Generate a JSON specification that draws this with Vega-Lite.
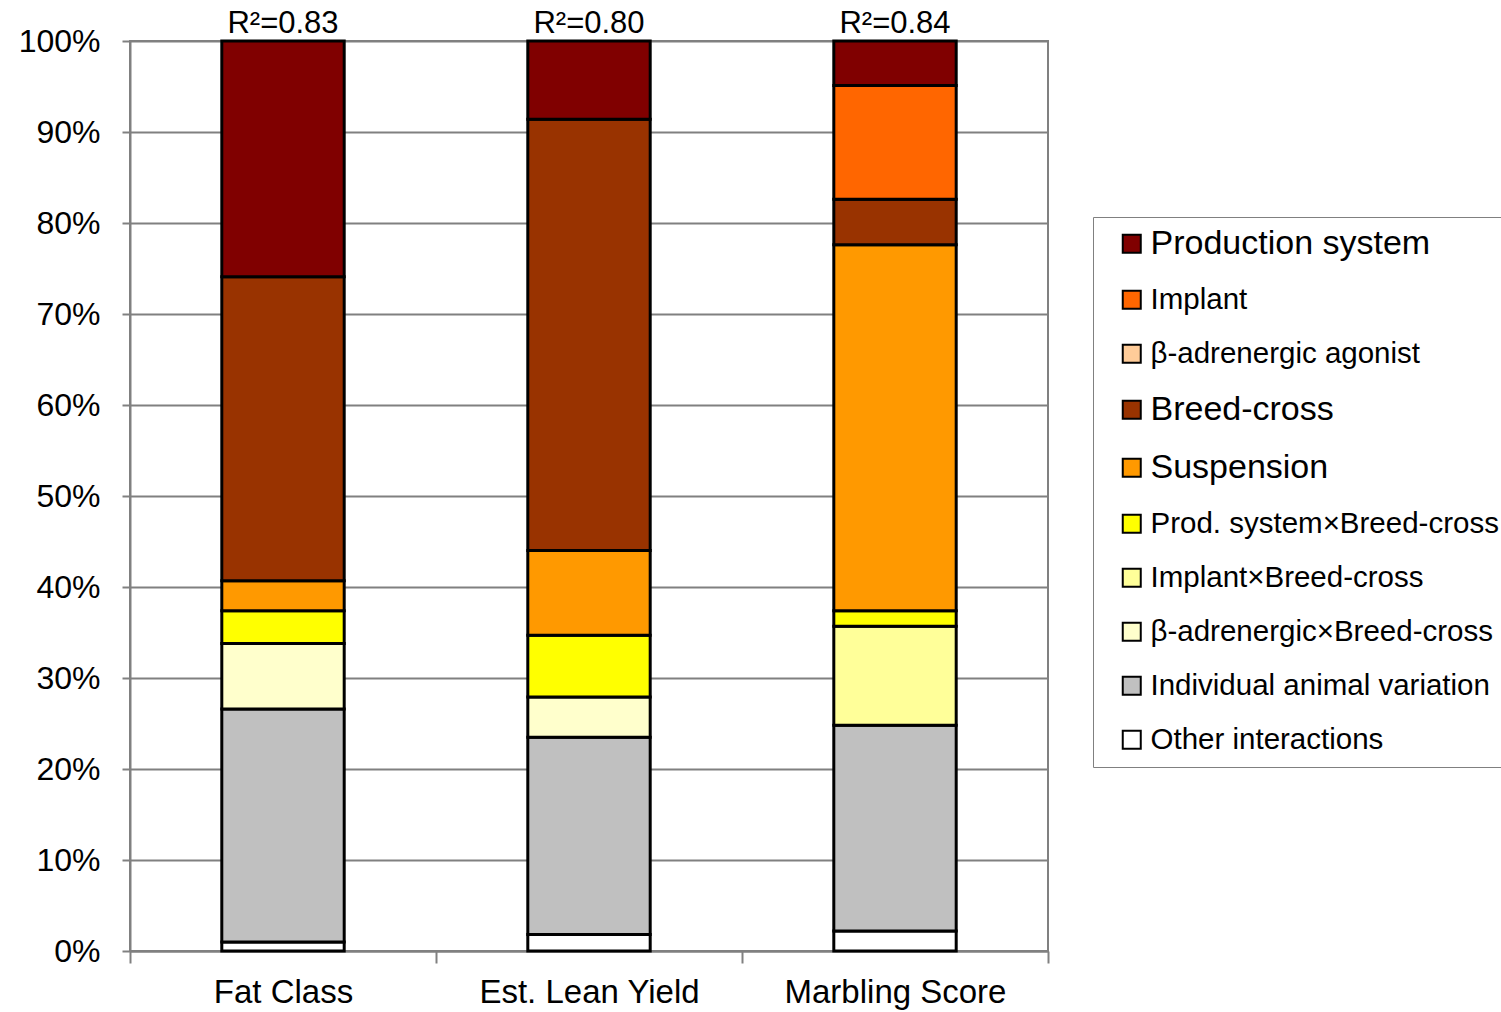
{
  "$schema": "https://vega.github.io/schema/vega-lite/v6.json",
  "autosize": {"type": "none"},
  "padding": {"left": 130, "top": 41, "right": 453, "bottom": 61},
  "width": 918,
  "height": 910,
  "background": "#ffffff",
  "config": {
    "font": "Liberation Sans",
    "view": {"stroke": "#808080", "strokeWidth": 2}
  },
  "layer": [
    {
      "data": {"values": [
        {"measure": "Fat Class", "component": "Other interactions", "ord": 0, "value": 1.0},
        {"measure": "Fat Class", "component": "Individual animal variation", "ord": 1, "value": 25.6},
        {"measure": "Fat Class", "component": "β-adrenergic×Breed-cross", "ord": 2, "value": 7.2},
        {"measure": "Fat Class", "component": "Prod. system×Breed-cross", "ord": 4, "value": 3.6},
        {"measure": "Fat Class", "component": "Suspension", "ord": 5, "value": 3.3},
        {"measure": "Fat Class", "component": "Breed-cross", "ord": 6, "value": 33.4},
        {"measure": "Fat Class", "component": "Production system", "ord": 9, "value": 25.9},
        {"measure": "Est. Lean Yield", "component": "Other interactions", "ord": 0, "value": 1.8},
        {"measure": "Est. Lean Yield", "component": "Individual animal variation", "ord": 1, "value": 21.7},
        {"measure": "Est. Lean Yield", "component": "β-adrenergic×Breed-cross", "ord": 2, "value": 4.4},
        {"measure": "Est. Lean Yield", "component": "Prod. system×Breed-cross", "ord": 4, "value": 6.8},
        {"measure": "Est. Lean Yield", "component": "Suspension", "ord": 5, "value": 9.3},
        {"measure": "Est. Lean Yield", "component": "Breed-cross", "ord": 6, "value": 47.4},
        {"measure": "Est. Lean Yield", "component": "Production system", "ord": 9, "value": 8.6},
        {"measure": "Marbling Score", "component": "Other interactions", "ord": 0, "value": 2.2},
        {"measure": "Marbling Score", "component": "Individual animal variation", "ord": 1, "value": 22.6},
        {"measure": "Marbling Score", "component": "Implant×Breed-cross", "ord": 3, "value": 10.9},
        {"measure": "Marbling Score", "component": "Prod. system×Breed-cross", "ord": 4, "value": 1.7},
        {"measure": "Marbling Score", "component": "Suspension", "ord": 5, "value": 40.2},
        {"measure": "Marbling Score", "component": "Breed-cross", "ord": 6, "value": 5.0},
        {"measure": "Marbling Score", "component": "Implant", "ord": 8, "value": 12.5},
        {"measure": "Marbling Score", "component": "Production system", "ord": 9, "value": 4.9}
      ]},
      "mark": {"type": "bar", "stroke": "#000000", "strokeWidth": 3, "width": {"band": 0.4}},
      "encoding": {
        "x": {
          "field": "measure", "type": "nominal",
          "sort": ["Fat Class", "Est. Lean Yield", "Marbling Score"],
          "scale": {"paddingInner": 0, "paddingOuter": 0},
          "axis": {
            "title": null, "labelAngle": 0, "labelFontSize": 33, "labelColor": "#000000", "labelLimit": 400,
            "tickBand": "extent", "tickSize": 12, "tickColor": "#808080", "tickWidth": 2,
            "domainColor": "#808080", "domainWidth": 2, "labelPadding": 13
          }
        },
        "y": {
          "field": "value", "type": "quantitative", "stack": "zero",
          "scale": {"domain": [0, 100], "nice": false},
          "axis": {
            "title": null, "values": [0, 10, 20, 30, 40, 50, 60, 70, 80, 90, 100],
            "labelExpr": "datum.value + '%'", "labelFontSize": 32, "labelColor": "#000000",
            "grid": true, "gridColor": "#808080", "gridWidth": 2,
            "tickSize": 8, "tickColor": "#808080", "tickWidth": 2,
            "domainColor": "#808080", "domainWidth": 2, "labelPadding": 22
          }
        },
        "color": {
          "field": "component", "type": "nominal",
          "scale": {
            "domain": ["Production system", "Implant", "β-adrenergic agonist", "Breed-cross", "Suspension", "Prod. system×Breed-cross", "Implant×Breed-cross", "β-adrenergic×Breed-cross", "Individual animal variation", "Other interactions"],
            "range": ["#800000", "#FF6600", "#FFCC99", "#993300", "#FF9900", "#FFFF00", "#FFFF99", "#FFFFCC", "#C0C0C0", "#FFFFFF"]
          },
          "legend": {
            "title": null, "orient": "none", "legendX": 963, "legendY": 176,
            "symbolType": "square", "symbolSize": 324, "symbolStrokeColor": "#000000", "symbolStrokeWidth": 2,
            "labelFontSize": 30, "labelColor": "#000000", "labelLimit": 600,
            "rowPadding": 23, "padding": 12, "strokeColor": "#808080",
            "fillColor": "#ffffff", "symbolOffset": 12, "labelOffset": 4,
            "encode": {
              "labels": {"update": {"fontSize": {"signal": "indexof(['Production system','Breed-cross','Suspension'], datum.label) >= 0 ? 34 : 29.5"}}}
            }
          }
        },
        "order": {"field": "ord", "type": "quantitative", "sort": "ascending"}
      }
    },
    {
      "data": {"values": [
        {"measure": "Fat Class", "label": "R²=0.83", "top": 100},
        {"measure": "Est. Lean Yield", "label": "R²=0.80", "top": 100},
        {"measure": "Marbling Score", "label": "R²=0.84", "top": 100}
      ]},
      "mark": {"type": "text", "baseline": "alphabetic", "dy": -8, "fontSize": 31, "color": "#000000"},
      "encoding": {
        "x": {"field": "measure", "type": "nominal", "sort": ["Fat Class", "Est. Lean Yield", "Marbling Score"]},
        "y": {"field": "top", "type": "quantitative"},
        "text": {"field": "label"}
      }
    }
  ]
}
